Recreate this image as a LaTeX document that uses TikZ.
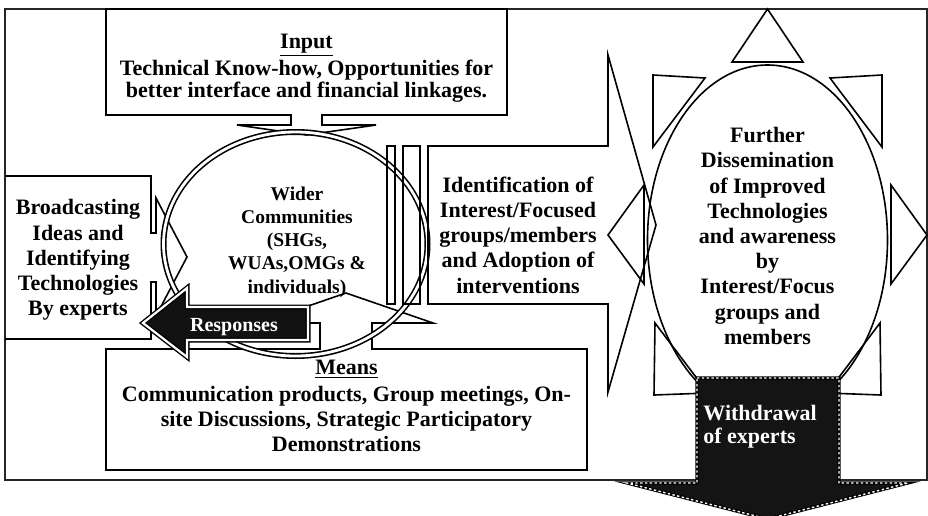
\documentclass[tikz,border=0pt]{standalone}
\usepackage{fontspec}
\setmainfont{Liberation Serif}
\begin{document}
\begin{tikzpicture}[x=0.5pt, y=-0.5pt, line join=miter,
    shape line/.style={draw, line width=0.8pt},
    body text/.style={font=\fontsize{11}{12.6}\selectfont\bfseries, align=center, inner sep=0pt},
    white text/.style={body text, text=white},
    dark arrow/.style={fill=black!93, draw=black, line width=0.7pt, double=white, double distance=1.1pt},
    dotted arrow/.style={preaction={fill=black!92, draw=black, line width=1.6pt}, draw=white, line width=0.7pt, dash pattern=on 1.2pt off 1.2pt}]

  \useasboundingbox (0,0) rectangle (928,515);
  \draw[line width=0.6pt, black!85] (5,9) rectangle (927,480);

  \draw[shape line] (106,9) -- (507,9) -- (507,115) -- (322,115) -- (322,125) -- (376,125) -- (306.5,135)
    -- (237,125) -- (291,125) -- (291,115) -- (106,115) -- cycle;
  \draw[shape line] (5,176) -- (151,176) -- (151,233) -- (156,233) -- (156,198) -- (187,257) -- (156,316)
    -- (156,282) -- (151,282) -- (151,339) -- (5,339);
  \draw[shape line] (106,349) -- (320,349) -- (320,323) -- (259,323) -- (346,293) -- (433,323) -- (372,323)
    -- (372,349) -- (587,349) -- (587,470) -- (106,470) -- cycle;
  \draw[draw=black, line width=0.8pt, double=white, double distance=1.4pt] (295.5,244) ellipse [x radius=66pt, y radius=56pt];

  \draw[shape line] (387,146) rectangle (395,304) (403,146) rectangle (420,304);
  \draw[shape line] (428,146) -- (608,146) -- (608,55) -- (656,225) -- (608,392) -- (608,304) -- (428,304) -- cycle;

  \draw[shape line] (767.5,240) ellipse [x radius=60pt, y radius=87.5pt];
  \draw[shape line] (732,62) -- (803,62) -- (767.5,9) -- cycle
    (830,78) -- (882,75) -- (882,147) -- cycle
    (705,78) -- (653,75) -- (653,147) -- cycle
    (891,185) -- (927,235) -- (891,284) -- cycle
    (644,185) -- (608,235) -- (644,284) -- cycle
    (880,323) -- (881,395) -- (827,393) -- cycle
    (655,323) -- (654,395) -- (708,393) -- cycle;

  \draw[dotted arrow] (697,378) -- (839,378) -- (839,483) -- (908,483) -- (767.5,519) -- (627,483) -- (697,483) -- cycle;
  \draw[dark arrow] (143,323) -- (187,288) -- (187,307) -- (308,307) -- (308,340) -- (187,340) -- (187,357) -- cycle;

  \node[body text] (input) at (306.5,68) {\underline{Input}\\[0.9pt]Technical Know-how, Opportunities for\\[-1.6pt]better interface and financial linkages.};
  \node[body text] (broad) at (78,260) {Broadcasting\\Ideas and\\Identifying\\Technologies\\By experts};
  \node[body text, font=\fontsize{9.75}{11.65}\selectfont\bfseries] (wider) at (297,242) {Wider\\Communities\\(SHGs,\\WUAs,OMGs \&\\individuals)};
  \node[body text] (ident) at (518,235) {Identification of\\Interest/Focused\\groups/members\\and Adoption of\\interventions};
  \node[body text] (further) at (767.5,236) {Further\\Dissemination\\of Improved\\Technologies\\and awareness\\by\\Interest/Focus\\groups and\\members};
  \node[body text] (means) at (346.5,406) {\underline{Means}\\[1pt]Communication products, Group meetings, On-\\site Discussions, Strategic Participatory\\Demonstrations};
  \node[white text, align=left, anchor=west, font=\fontsize{11}{11.5}\selectfont\bfseries] (withdraw) at (703,426.5) {Withdrawal\\of experts};
  \node[white text, font=\fontsize{10}{12}\selectfont\bfseries] (resp) at (234,327) {Responses};
\end{tikzpicture}
\end{document}
